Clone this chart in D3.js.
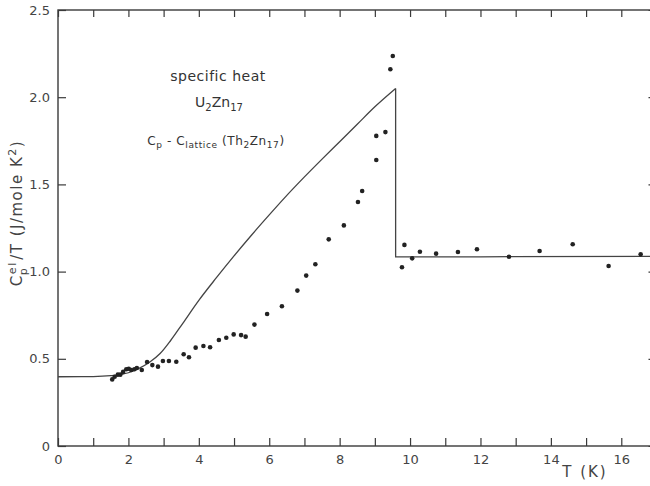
<!DOCTYPE html>
<html>
<head>
<meta charset="utf-8">
<script src="https://cdn.jsdelivr.net/npm/d3@7"></script>
<style>
  body { margin: 0; background: #fff; }
  svg { display: block; font-family: "DejaVu Sans", sans-serif; }
</style>
</head>
<body>
<div id="chart"></div>
<script>
// measured points, C_p^el / T vs T
var tempPts = [1.54,1.61,1.70,1.77,1.85,1.94,2.01,2.08,2.17,2.24,2.38,2.53,2.68,2.84,2.98,3.15,3.36,3.57,3.72,3.91,
	4.13,4.32,4.57,4.78,4.99,5.20,5.33,5.58,5.94,6.36,6.80,7.05,7.31,7.69,8.12,8.52,8.64,9.04,9.04,9.30,9.44,9.51,
	9.77,9.84,10.06,10.28,10.74,11.36,11.90,12.81,13.68,14.62,15.64,16.55];
var cPts = [0.382,0.397,0.409,0.409,0.425,0.44,0.443,0.436,0.44,0.447,0.436,0.482,0.464,0.455,0.487,0.487,0.483,0.526,0.509,0.564,
	0.573,0.566,0.608,0.621,0.640,0.636,0.627,0.696,0.757,0.801,0.891,0.977,1.042,1.185,1.265,1.399,1.462,1.64,1.778,1.80,2.16,2.236,
	1.025,1.153,1.076,1.114,1.103,1.112,1.128,1.085,1.118,1.157,1.032,1.099];

// solid curve: rise below Tc, then the drop and the flat normal-state part
var tempRise = [0, 1.0, 1.5, 2.0, 2.3, 2.6, 2.9, 3.2, 3.55, 4.0, 4.5, 5.0, 5.5, 6.0, 6.5, 7.0, 7.5, 8.0, 8.5, 9.0, 9.59];
var cRise = [0.397, 0.398, 0.403, 0.42, 0.445, 0.48, 0.53, 0.605, 0.705, 0.835, 0.965, 1.09, 1.21, 1.325, 1.437, 1.543, 1.645, 1.745, 1.845, 1.945, 2.05];
var tempNormal = [9.59, 9.59, 12, 17];
var cNormal = [2.05, 1.085, 1.085, 1.087];

var xTicks = d3.range(0, 18, 1);
var yTicks = [0, 0.5, 1.0, 1.5, 2.0, 2.5];

var width = 650, height = 486;
var x = d3.scaleLinear().domain([0, 17]).range([58, 656.5]);
var y = d3.scaleLinear().domain([0, 2.5]).range([446, 10]);

var svg = d3.select("#chart").append("svg")
	.attr("width", width)
	.attr("height", height);

var ink = "#3a3a3a";

// frame
svg.append("rect")
	.attr("x", x(0)).attr("y", y(2.5))
	.attr("width", x(17) - x(0)).attr("height", y(0) - y(2.5))
	.attr("fill", "none").attr("stroke", ink).attr("stroke-width", 1.4);

function styleAxis(g) {
	g.select(".domain").remove();
	g.selectAll("line").attr("stroke", ink).attr("stroke-width", 1.2);
	g.selectAll("text").attr("fill", "#444").style("font-size", "13px")
		.style("font-family", "'DejaVu Sans', sans-serif");
}

svg.append("g")
	.attr("transform", "translate(0," + y(0) + ")")
	.call(d3.axisBottom(x).tickValues(xTicks).tickSize(-8).tickPadding(9)
		.tickFormat(function(d) { return d % 2 === 0 ? d : ""; }))
	.call(styleAxis);

svg.append("g")
	.attr("transform", "translate(0," + y(2.5) + ")")
	.call(d3.axisTop(x).tickValues(xTicks).tickSize(-7).tickFormat(""))
	.call(styleAxis);

svg.append("g")
	.attr("transform", "translate(" + x(0) + ",0)")
	.call(d3.axisLeft(y).tickValues(yTicks).tickSize(-8).tickPadding(8)
		.tickFormat(function(d) { return d === 0 ? "0" : d3.format(".1f")(d); }))
	.call(styleAxis);

svg.append("g")
	.attr("transform", "translate(" + x(17) + ",0)")
	.call(d3.axisRight(y).tickValues(yTicks).tickSize(-8).tickFormat(""))
	.call(styleAxis);

// curve
function pairs(a, b) { return a.map(function(t, i) { return [t, b[i]]; }); }
var smooth = d3.line()
	.x(function(d) { return x(d[0]); })
	.y(function(d) { return y(d[1]); })
	.curve(d3.curveMonotoneX);
var straight = d3.line()
	.x(function(d) { return x(d[0]); })
	.y(function(d) { return y(d[1]); });

svg.append("path")
	.datum(pairs(tempRise, cRise))
	.attr("fill", "none")
	.attr("stroke", "#444")
	.attr("stroke-width", 1.3)
	.attr("d", smooth);

svg.append("path")
	.datum(pairs(tempNormal, cNormal))
	.attr("fill", "none")
	.attr("stroke", "#444")
	.attr("stroke-width", 1.3)
	.attr("d", straight);

// points
svg.append("g").selectAll("circle")
	.data(pairs(tempPts, cPts))
	.enter().append("circle")
	.attr("cx", function(d) { return x(d[0]); })
	.attr("cy", function(d) { return y(d[1]); })
	.attr("r", 2.3)
	.attr("fill", "#222");

// y label
var yl = svg.append("text")
	.attr("transform", "translate(22,213) rotate(-90)")
	.attr("text-anchor", "middle")
	.attr("fill", "#444")
	.style("font-size", "15px")
	.style("letter-spacing", "1.5px");
yl.append("tspan").text("C");
yl.append("tspan").attr("dy", -6).style("font-size", "11px").text("el");
yl.append("tspan").attr("dx", -14).attr("dy", 11).style("font-size", "11px").text("p");
yl.append("tspan").attr("dy", -5).attr("dx", 7).text("/T (J/mole K");
yl.append("tspan").attr("dy", -6).style("font-size", "11px").text("2");
yl.append("tspan").attr("dy", 6).text(")");

// x label
svg.append("text")
	.attr("x", 585).attr("y", 477)
	.attr("text-anchor", "middle")
	.attr("fill", "#444")
	.style("font-size", "15px")
	.style("letter-spacing", "2px")
	.text("T (K)");

// annotations
svg.append("text")
	.attr("x", 218).attr("y", 81)
	.attr("text-anchor", "middle")
	.attr("fill", "#333")
	.style("font-size", "14px")
	.style("letter-spacing", "0.5px")
	.text("specific heat");

var u = svg.append("text")
	.attr("x", 219).attr("y", 107)
	.attr("text-anchor", "middle")
	.attr("fill", "#333")
	.style("font-size", "14px");
u.append("tspan").text("U");
u.append("tspan").attr("dy", 4).style("font-size", "10px").text("2");
u.append("tspan").attr("dy", -4).text("Zn");
u.append("tspan").attr("dy", 4).style("font-size", "10px").text("17");

var c = svg.append("text")
	.attr("x", 216).attr("y", 145)
	.attr("text-anchor", "middle")
	.attr("fill", "#333")
	.style("font-size", "12px")
	.style("letter-spacing", "0.6px");
c.append("tspan").text("C");
c.append("tspan").attr("dy", 3).style("font-size", "9px").text("p");
c.append("tspan").attr("dy", -3).text("   -   C");
c.append("tspan").attr("dy", 3).style("font-size", "9px").text("lattice");
c.append("tspan").attr("dy", -3).text("  (Th");
c.append("tspan").attr("dy", 3).style("font-size", "9px").text("2");
c.append("tspan").attr("dy", -3).text("Zn");
c.append("tspan").attr("dy", 3).style("font-size", "9px").text("17");
c.append("tspan").attr("dy", -3).text(")");
</script>
</body>
</html>
